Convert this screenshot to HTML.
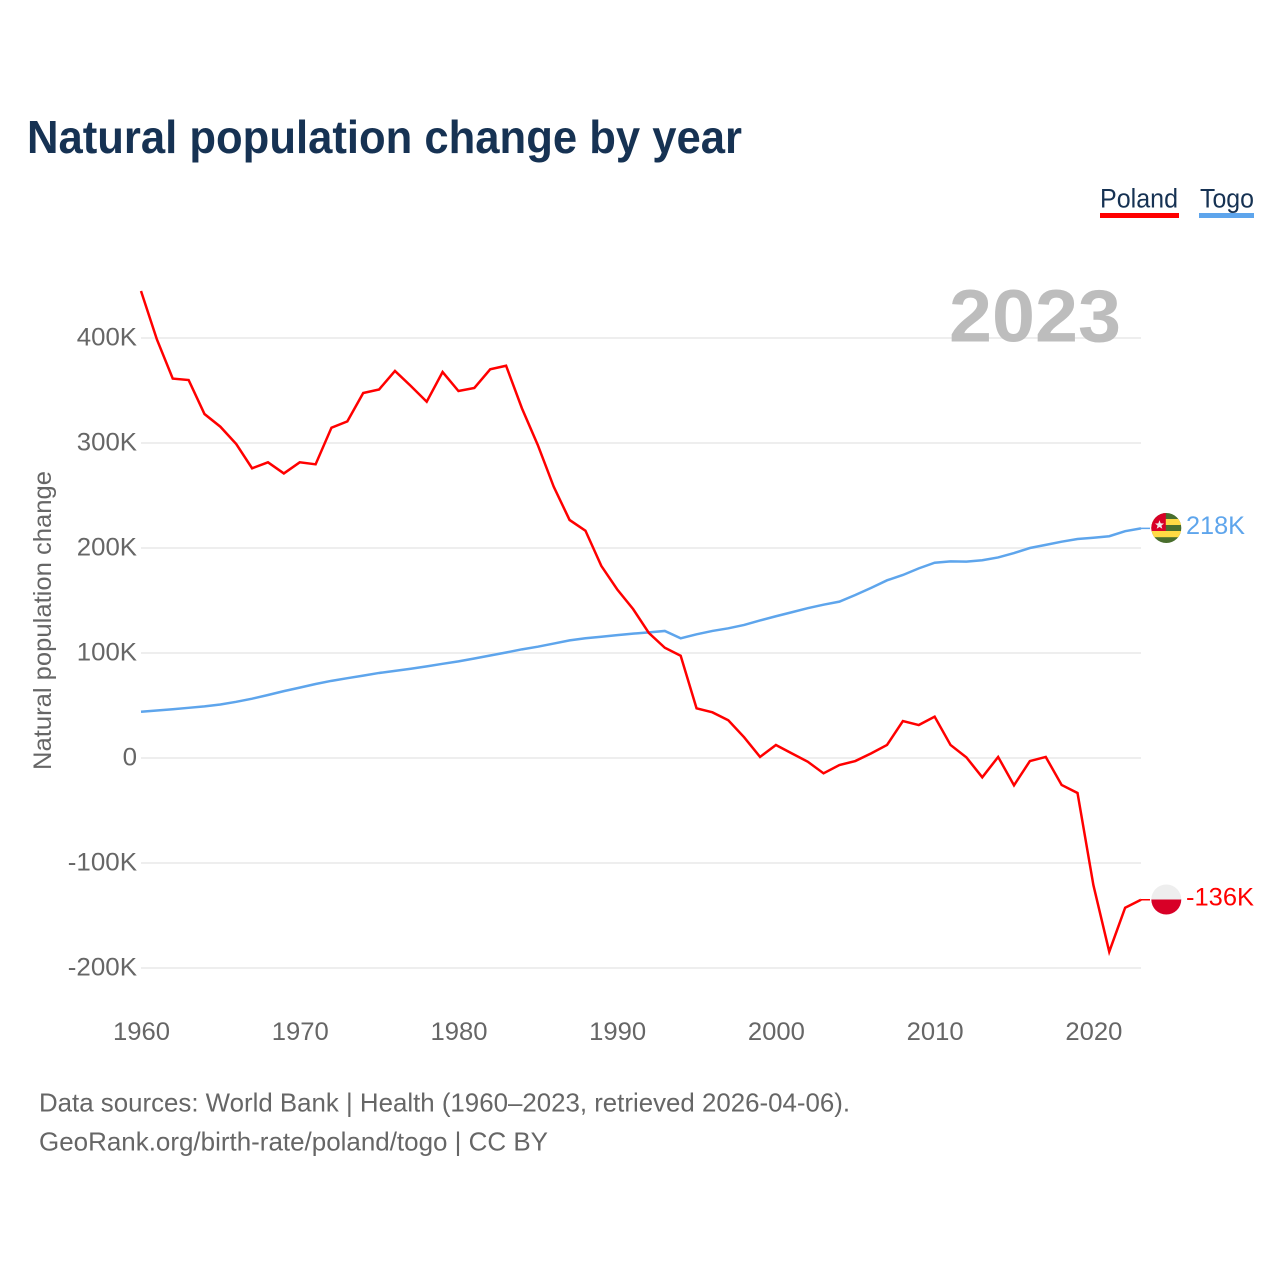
<!DOCTYPE html>
<html lang="en">
<head>
<meta charset="utf-8">
<title>Natural population change by year</title>
<style>
html,body{margin:0;padding:0;background:#fff;}
svg{display:block;font-family:"Liberation Sans",sans-serif;}
</style>
</head>
<body>
<svg id="chart" xmlns="http://www.w3.org/2000/svg" width="1280" height="1280" viewBox="0 0 1280 1280">
  <defs>
    <clipPath id="togo-clip"><circle cx="1166.3" cy="528" r="15"></circle></clipPath>
    <clipPath id="poland-clip"><circle cx="1166.3" cy="899.5" r="15"></circle></clipPath>
  </defs>
  <rect width="1280" height="1280" fill="#fff"></rect>
  <text x="27" y="153" font-size="46.5" font-weight="700" fill="#163253" textLength="715" lengthAdjust="spacingAndGlyphs">Natural population change by year</text>

  <g>
    <text x="1100" y="207.5" font-size="26.5" fill="#163253" textLength="78" lengthAdjust="spacingAndGlyphs">Poland</text>
    <rect x="1100" y="213" width="79" height="5" fill="#ff0000"></rect>
    <text x="1200" y="207.5" font-size="26.5" fill="#163253" textLength="54" lengthAdjust="spacingAndGlyphs">Togo</text>
    <rect x="1199" y="213" width="55" height="5" fill="#5ea5ec"></rect>
  </g>

  <g id="grid"></g>
  <g id="y-ticks"></g>
  <g id="x-ticks"></g>

  <text transform="translate(51,770) rotate(-90)" x="0" y="0" font-size="25" fill="#666" textLength="299" lengthAdjust="spacingAndGlyphs">Natural population change</text>

  <text x="949" y="341.5" font-size="74" font-weight="700" fill="#bdbdbd" textLength="172" lengthAdjust="spacingAndGlyphs">2023</text>

  <g id="series"></g>

  <g clip-path="url(#togo-clip)">
    <rect x="1151" y="513" width="31" height="31" fill="#496e2d"></rect>
    <rect x="1151" y="519" width="31" height="6" fill="#ffda44"></rect>
    <rect x="1151" y="531" width="31" height="6.2" fill="#ffda44"></rect>
    <rect x="1151" y="513" width="14.8" height="18" fill="#d80027"></rect>
    <polygon points="1159.5,520.2 1160.7,523.4 1164,523.5 1161.4,525.6 1162.3,528.8 1159.5,527 1156.7,528.8 1157.6,525.6 1155,523.5 1158.3,523.4" fill="#eeeeee"></polygon>
  </g>
  <g clip-path="url(#poland-clip)">
    <rect x="1151" y="884" width="31" height="15.5" fill="#eeeeee"></rect>
    <rect x="1151" y="899.5" width="31" height="15.5" fill="#d80027"></rect>
  </g>

  <text x="1186" y="534" font-size="25" fill="#5ea5ec" textLength="59" lengthAdjust="spacingAndGlyphs">218K</text>
  <text x="1186" y="905.5" font-size="25" fill="#ff0000" textLength="68" lengthAdjust="spacingAndGlyphs">-136K</text>

  <text x="39" y="1111.5" font-size="26" fill="#666" textLength="811" lengthAdjust="spacingAndGlyphs">Data sources: World Bank | Health (1960–2023, retrieved 2026-04-06).</text>
  <text x="39" y="1150.5" font-size="26" fill="#666" textLength="509" lengthAdjust="spacingAndGlyphs">GeoRank.org/birth-rate/poland/togo | CC BY</text>
</svg>
<script>
const firstYear = 1960;
const polandValues = [444.8,398.7,361.3,360,327.6,315.5,299,275.9,281.6,271,281.6,279.7,314.6,320.6,347.6,351,368.6,354.3,339.3,367.6,349.5,352.4,370.2,373.6,333,298,258.4,226.7,216.5,182.9,160.6,141.9,119,105,97.4,47.3,43.5,35.9,19.7,1,12.4,4.4,-3.5,-14.6,-6.7,-2.9,4.4,12.4,35.2,31.4,39.4,12.4,0.6,-18.4,1,-26,-2.9,1,-25.7,-33.3,-121,-184.5,-142.6,-135];
const togoValues = [44,45.2,46.4,47.8,49.2,51,53.5,56.5,60,63.7,67,70.5,73.5,76,78.5,81,83,85,87.3,89.7,92,94.8,97.6,100.5,103.5,106,109,112,114,115.5,117,118.4,119.7,121,114,117.8,121,123.5,126.7,131,135,138.8,142.7,146,148.9,155.2,162,169.2,174.3,180.6,186,187.3,187,188.3,191,195.2,200,203,206,208.6,209.8,211.2,216,218.7];
const yTickValues = [400,300,200,100,0,-100,-200];
const yTickLabels = ["400K","300K","200K","100K","0","-100K","-200K"];
const xTickYears = [1960,1970,1980,1990,2000,2010,2020];

const SVG_NS = "http://www.w3.org/2000/svg";
function xScale(year){ return 141 + (year - 1960) * 1000 / 63; }
function yScale(value){ return 758 - value * 1.05; }
function tickWidth(label){
  let w = 0;
  for (const c of label) { w += c === "K" ? 17 : c === "-" ? 9 : 14.4; }
  return w;
}

const grid = document.getElementById("grid");
const yTicks = document.getElementById("y-ticks");
yTickValues.forEach(function(v, i){
  const line = document.createElementNS(SVG_NS, "line");
  line.setAttribute("x1", 141);
  line.setAttribute("x2", 1141);
  line.setAttribute("y1", yScale(v));
  line.setAttribute("y2", yScale(v));
  line.setAttribute("stroke", "#eeeeee");
  line.setAttribute("stroke-width", "2");
  
  
  grid.appendChild(line);

  const t = document.createElementNS(SVG_NS, "text");
  t.textContent = yTickLabels[i];
  const w = tickWidth(yTickLabels[i]);
  t.setAttribute("x", 137 - w);
  t.setAttribute("y", yScale(v) + 7.5);
  t.setAttribute("font-size", "25");
  t.setAttribute("fill", "#666");
  t.setAttribute("textLength", w);
  t.setAttribute("lengthAdjust", "spacingAndGlyphs");
  
  
  yTicks.appendChild(t);
});

const xTicks = document.getElementById("x-ticks");
xTickYears.forEach(function(y){
  const t = document.createElementNS(SVG_NS, "text");
  t.textContent = String(y);
  t.setAttribute("x", xScale(y) - 28);
  t.setAttribute("y", 1040);
  t.setAttribute("font-size", "25");
  t.setAttribute("fill", "#666");
  t.setAttribute("textLength", 57);
  t.setAttribute("lengthAdjust", "spacingAndGlyphs");
  
  
  xTicks.appendChild(t);
});

function pathFor(values){
  return values.map(function(v, i){
    return (i ? "L" : "M") + xScale(firstYear + i).toFixed(2) + " " + yScale(v).toFixed(2);
  }).join(" ");
}
const series = document.getElementById("series");

const togoLine = document.createElementNS(SVG_NS, "path");
togoLine.setAttribute("d", pathFor(togoValues));
togoLine.setAttribute("fill", "none");
togoLine.setAttribute("stroke", "#5ea5ec");
togoLine.setAttribute("stroke-width", "2.5");
togoLine.setAttribute("stroke-linejoin", "miter");


series.appendChild(togoLine);

const polandLine = document.createElementNS(SVG_NS, "path");
polandLine.setAttribute("d", pathFor(polandValues));
polandLine.setAttribute("fill", "none");
polandLine.setAttribute("stroke", "#ff0000");
polandLine.setAttribute("stroke-width", "2.5");
polandLine.setAttribute("stroke-linejoin", "miter");


series.appendChild(polandLine);

const togoConnector = document.createElementNS(SVG_NS, "line");
togoConnector.setAttribute("x1", xScale(2023));
togoConnector.setAttribute("x2", xScale(2023) + 9);
togoConnector.setAttribute("y1", yScale(togoValues[togoValues.length - 1]));
togoConnector.setAttribute("y2", yScale(togoValues[togoValues.length - 1]));
togoConnector.setAttribute("stroke", "#5ea5ec");
togoConnector.setAttribute("stroke-width", "1.5");


series.appendChild(togoConnector);

const polandConnector = document.createElementNS(SVG_NS, "line");
polandConnector.setAttribute("x1", xScale(2023));
polandConnector.setAttribute("x2", xScale(2023) + 9);
polandConnector.setAttribute("y1", yScale(polandValues[polandValues.length - 1]));
polandConnector.setAttribute("y2", yScale(polandValues[polandValues.length - 1]));
polandConnector.setAttribute("stroke", "#ff0000");
polandConnector.setAttribute("stroke-width", "1.5");


series.appendChild(polandConnector);
</script>
</body>
</html>
